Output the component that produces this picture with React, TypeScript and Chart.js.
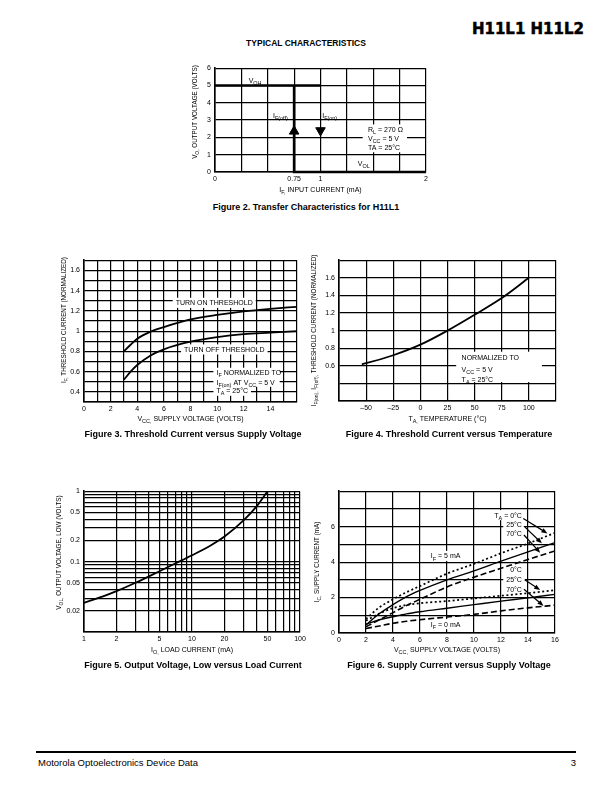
import React, { useEffect, useRef } from 'react';
import { Chart, registerables } from 'chart.js';
Chart.register(...registerables);

const FONT = '"Liberation Sans", Arial, Helvetica, sans-serif';
const PL = 46, PT = 8, PR = 14, XH = 14, PB = 14, YW = 22;

// ---------- Figure 2: transfer characteristics ----------
const fig2XGrid = [0, 0.25, 0.5, 0.75, 1, 1.25, 1.5, 1.75, 2];
const fig2XLabels = [0, 0.75, 1, 2];
const fig2YGrid = [0, 1, 2, 3, 4, 5, 6];
const fig2YLabels = [0, 1, 2, 3, 4, 5, 6];
const fig2HighX = [0, 1];
const fig2HighY = [5, 5];
const fig2SwitchX = [0.75, 0.75, 2];
const fig2SwitchY = [5, 0, 0];
const fig2OffMarkX = [0.75];
const fig2OffMarkY = [2.35];
const fig2OnMarkX = [1];
const fig2OnMarkY = [2.4];

// ---------- Figure 3: threshold current vs supply voltage ----------
const fig3XGrid = [0, 1, 2, 3, 4, 5, 6, 7, 8, 9, 10, 11, 12, 13, 14, 15, 16];
const fig3XLabels = [0, 2, 4, 6, 8, 10, 12, 14];
const fig3YGrid = [0.3, 0.4, 0.5, 0.6, 0.7, 0.8, 0.9, 1, 1.1, 1.2, 1.3, 1.4, 1.5, 1.6, 1.7];
const fig3YLabels = [0.4, 0.6, 0.8, 1, 1.2, 1.4, 1.6];
const fig3Vcc = [3, 3.5, 4, 5, 6, 8, 10, 12, 14, 16];
const fig3TurnOn = [0.8, 0.865, 0.925, 0.995, 1.04, 1.115, 1.16, 1.195, 1.22, 1.24];
const fig3TurnOff = [0.52, 0.6, 0.665, 0.76, 0.82, 0.895, 0.94, 0.97, 0.985, 1.0];

// ---------- Figure 4: threshold current vs temperature ----------
const fig4XGrid = [-75, -50, -25, 0, 25, 50, 75, 100, 125];
const fig4XLabels = [-50, -25, 0, 25, 50, 75, 100];
const fig4YGrid = [0.2, 0.4, 0.6, 0.8, 1, 1.2, 1.4, 1.6, 1.8];
const fig4YLabels = [0.6, 0.8, 1, 1.2, 1.4, 1.6];
const fig4Temp = [-54, -50, -25, 0, 25, 50, 75, 100];
const fig4Current = [0.62, 0.63, 0.72, 0.84, 1.0, 1.18, 1.37, 1.6];

// ---------- Figure 5: output voltage low vs load current ----------
const fig5XGrid = [1, 2, 3, 4, 5, 6, 7, 8, 9, 10, 20, 30, 40, 50, 60, 70, 80, 90, 100];
const fig5XLabels = [1, 2, 5, 10, 20, 50, 100];
const fig5YGrid = [0.01, 0.02, 0.03, 0.04, 0.05, 0.06, 0.07, 0.08, 0.09, 0.1, 0.2, 0.3, 0.4, 0.5, 0.6, 0.7, 0.8, 0.9, 1];
const fig5YLabels = [0.02, 0.05, 0.1, 0.2, 0.5, 1];
const fig5Load = [1, 1.5, 2, 3, 5, 7, 10, 15, 20, 30, 40, 50];
const fig5Vol = [0.026, 0.032, 0.038, 0.05, 0.073, 0.094, 0.123, 0.171, 0.227, 0.385, 0.62, 1.0];

// ---------- Figure 6: supply current vs supply voltage ----------
const fig6XGrid = [0, 2, 4, 6, 8, 10, 12, 14, 16];
const fig6XLabels = [0, 2, 4, 6, 8, 10, 12, 14, 16];
const fig6YGrid = [0, 1, 2, 3, 4, 5, 6, 7, 8];
const fig6YLabels = [0, 2, 4, 6];
const fig6Vcc = [2, 3, 4, 5, 6, 8, 10, 12, 14, 16];
const fig6On0C = [0.8, 1.45, 1.9, 2.3, 2.65, 3.35, 3.9, 4.5, 5.05, 5.65];
const fig6On25C = [0.45, 1.1, 1.6, 2.05, 2.4, 3.0, 3.5, 4.05, 4.58, 5.1];
const fig6On70C = [0.35, 0.75, 1.15, 1.55, 1.9, 2.6, 3.15, 3.65, 4.15, 4.63];
const fig6Off0C = [0.7, 1.1, 1.4, 1.58, 1.68, 1.8, 1.95, 2.1, 2.25, 2.42];
const fig6Off25C = [0.5, 0.75, 0.92, 1.08, 1.2, 1.4, 1.6, 1.8, 1.98, 2.18];
const fig6Off70C = [0.25, 0.4, 0.55, 0.66, 0.75, 0.9, 1.05, 1.25, 1.42, 1.57];

type Axis = { type: 'linear' | 'logarithmic'; min: number; max: number; grid: number[]; labels: number[] };
type Note = { x: number; y: number; text: string; align?: 'left' | 'center' | 'right'; bg?: boolean; size?: number };
type Spec = {
  rect: [number, number, number, number];
  x: Axis; y: Axis;
  datasets: any[];
  notes: Note[];
  boxes?: [number, number, number, number][];
  arrows?: [number, number, number, number][];
  xTitle: string; yTitle: string;
  yTitleDx: number; yTitleDy: number; xTitleDy: number;
};

const pts = (xs: number[], ys: number[]) => xs.map((x, i) => ({ x, y: ys[i] }));

function parseRich(s: string) {
  const out: { t: string; k: string }[] = [];
  const re = /_\{([^}]*)\}|\^\{([^}]*)\}|([^_^]+)/g;
  let m: RegExpExecArray | null;
  while ((m = re.exec(s))) {
    if (m[1] !== undefined) out.push({ t: m[1], k: 'sub' });
    else if (m[2] !== undefined) out.push({ t: m[2], k: 'sup' });
    else out.push({ t: m[3], k: '' });
  }
  return out;
}
function richW(ctx: CanvasRenderingContext2D, s: string, size: number) {
  let w = 0;
  for (const sg of parseRich(s)) {
    ctx.font = `${sg.k ? size * 0.78 : size}px ${FONT}`;
    w += ctx.measureText(sg.t).width;
  }
  return w;
}
function drawRich(ctx: CanvasRenderingContext2D, s: string, x: number, y: number, size: number, align: string) {
  const w = richW(ctx, s, size);
  let cx = align === 'left' ? x : align === 'center' ? x - w / 2 : x - w;
  const base = y + size * 0.36;
  ctx.textBaseline = 'alphabetic';
  ctx.textAlign = 'left';
  for (const sg of parseRich(s)) {
    const sz = sg.k ? size * 0.78 : size;
    ctx.font = `${sz}px ${FONT}`;
    const dy = sg.k === 'sub' ? size * 0.3 : sg.k === 'sup' ? -size * 0.4 : 0;
    ctx.fillText(sg.t, cx, base + dy);
    cx += ctx.measureText(sg.t).width;
  }
}

const fmt = (v: number) => {
  const r = Math.round(v * 1000) / 1000;
  return r < 0 ? '\u2013' + String(-r) : String(r);
};

function overlay(spec: Spec, cl: number, ct: number) {
  return {
    id: 'overlay',
    beforeDatasetsDraw(chart: any) {
      const { ctx } = chart;
      const xs = chart.scales.x, ys = chart.scales.y;
      ctx.save();
      ctx.fillStyle = '#fff';
      (spec.boxes || []).forEach((b) => {
        const x1 = xs.getPixelForValue(b[0]), x2 = xs.getPixelForValue(b[2]);
        const y1 = ys.getPixelForValue(b[1]), y2 = ys.getPixelForValue(b[3]);
        ctx.fillRect(Math.min(x1, x2), Math.min(y1, y2), Math.abs(x2 - x1), Math.abs(y2 - y1));
      });
      spec.notes.forEach((n) => {
        if (!n.bg) return;
        const size = n.size || 7;
        const px = xs.getPixelForValue(n.x), py = ys.getPixelForValue(n.y);
        const w = richW(ctx, n.text, size);
        const al = n.align || 'center';
        const x0 = al === 'left' ? px : al === 'center' ? px - w / 2 : px - w;
        ctx.fillStyle = '#fff';
        ctx.fillRect(x0 - 3, py - size * 0.72, w + 6, size * 1.44);
      });
      ctx.fillStyle = '#000';
      spec.notes.forEach((n) => {
        const size = n.size || 7;
        drawRich(ctx, n.text, xs.getPixelForValue(n.x), ys.getPixelForValue(n.y), size, n.align || 'center');
      });
      ctx.restore();
    },
    afterDatasetsDraw(chart: any) {
      const { ctx } = chart;
      const xs = chart.scales.x, ys = chart.scales.y;
      ctx.save();
      ctx.strokeStyle = '#000';
      ctx.fillStyle = '#000';
      (spec.arrows || []).forEach((a) => {
        const x1 = xs.getPixelForValue(a[0]), y1 = ys.getPixelForValue(a[1]);
        const x2 = xs.getPixelForValue(a[2]), y2 = ys.getPixelForValue(a[3]);
        const ang = Math.atan2(y2 - y1, x2 - x1);
        const L = 6, W = 2.4;
        ctx.lineWidth = 1.2;
        ctx.beginPath();
        ctx.moveTo(x1, y1);
        ctx.lineTo(x2 - Math.cos(ang) * L * 0.8, y2 - Math.sin(ang) * L * 0.8);
        ctx.stroke();
        ctx.beginPath();
        ctx.moveTo(x2, y2);
        ctx.lineTo(x2 - L * Math.cos(ang) + W * Math.sin(ang), y2 - L * Math.sin(ang) - W * Math.cos(ang));
        ctx.lineTo(x2 - L * Math.cos(ang) - W * Math.sin(ang), y2 - L * Math.sin(ang) + W * Math.cos(ang));
        ctx.closePath();
        ctx.fill();
      });
      ctx.restore();
    },
    afterDraw(chart: any) {
      const { ctx } = chart;
      const [L, T, R, B] = spec.rect;
      ctx.save();
      ctx.fillStyle = '#000';
      drawRich(ctx, spec.xTitle, (L + R) / 2 - cl, B + spec.xTitleDy - ct, 7, 'center');
      ctx.translate(L - spec.yTitleDx - cl, (T + B) / 2 + spec.yTitleDy - ct);
      ctx.rotate(-Math.PI / 2);
      drawRich(ctx, spec.yTitle, 0, 0, 6.3, 'center');
      ctx.restore();
    },
  };
}

function Plot({ spec }: { spec: Spec }) {
  const ref = useRef<HTMLCanvasElement>(null);
  const [L, T, R, B] = spec.rect;
  const left = L - PL, top = T - PT;
  const w = R - L + PL + PR, h = B - T + PT + XH + PB;
  useEffect(() => {
    const mk = (a: Axis, isX: boolean) => ({
      type: a.type,
      min: a.min,
      max: a.max,
      afterBuildTicks: (s: any) => { s.ticks = a.grid.map((v) => ({ value: v })); },
      afterFit: (s: any) => { if (isX) s.height = XH; else s.width = YW; },
      grid: { color: '#000', lineWidth: 1.2, drawTicks: false },
      border: { color: '#000', width: 1.6 },
      ticks: {
        autoSkip: false, maxRotation: 0, minRotation: 0, padding: isX ? 3 : 4, color: '#000',
        font: { family: FONT, size: 7 },
        callback: (v: number) => {
          const hit = a.labels.find((l) => Math.abs(l - v) < 1e-9);
          return hit === undefined ? '' : fmt(hit);
        },
      },
    });
    const chart = new Chart(ref.current as HTMLCanvasElement, {
      type: 'line',
      data: { datasets: spec.datasets },
      options: {
        animation: false,
        responsive: false,
        maintainAspectRatio: false,
        devicePixelRatio: 1,
        events: [],
        layout: { padding: { left: PL - YW, top: PT, right: PR, bottom: PB } },
        plugins: { legend: { display: false }, tooltip: { enabled: false } },
        elements: { point: { radius: 0 } },
        scales: { x: mk(spec.x, true) as any, y: mk(spec.y, false) as any },
      },
      plugins: [overlay(spec, left, top)],
    });
    return () => chart.destroy();
  }, []);
  return (
    <canvas ref={ref} width={w} height={h}
      style={{ position: 'absolute', left, top, width: w, height: h }} />
  );
}

const curve = (data: any[], dash: number[] = [], width = 1.6) => ({
  data, borderColor: '#000', borderWidth: width, borderDash: dash,
  pointRadius: 0, cubicInterpolationMode: 'monotone', fill: false,
});

function Txt({ x, y, size, bold, align = 'left', family = FONT, children, extra = {} }: any) {
  const topY = y - 0.85 * size;
  const style: any = {
    position: 'absolute', top: topY, fontSize: size, lineHeight: `${size}px`,
    fontFamily: family, fontWeight: bold ? 'bold' : 'normal', whiteSpace: 'nowrap', color: '#000', ...extra,
  };
  if (align === 'left') style.left = x;
  else if (align === 'right') style.right = 612 - x;
  else { style.left = x; style.transform = 'translateX(-50%)'; }
  return <div style={style}>{children}</div>;
}

export default function App() {
  const fig2: Spec = {
    rect: [215, 68, 426, 172],
    x: { type: 'linear', min: 0, max: 2, grid: fig2XGrid, labels: fig2XLabels },
    y: { type: 'linear', min: 0, max: 6, grid: fig2YGrid, labels: fig2YLabels },
    datasets: [
      { ...curve(pts(fig2HighX, fig2HighY), [], 2.6), cubicInterpolationMode: 'default', tension: 0, clip: false },
      { ...curve(pts(fig2SwitchX, fig2SwitchY), [], 2.6), cubicInterpolationMode: 'default', tension: 0, clip: false },
      { data: pts(fig2OffMarkX, fig2OffMarkY), showLine: false, pointStyle: 'triangle', pointRadius: 5.5,
        pointRotation: 0, backgroundColor: '#000', borderColor: '#000', borderWidth: 1 },
      { data: pts(fig2OnMarkX, fig2OnMarkY), showLine: false, pointStyle: 'triangle', pointRadius: 5.5,
        pointRotation: 180, backgroundColor: '#000', borderColor: '#000', borderWidth: 1 },
    ],
    boxes: [[1.4, 1.14, 1.82, 2.75]],
    notes: [
      { x: 0.38, y: 5.31, text: 'V_{OH}' },
      { x: 0.62, y: 3.29, text: 'I_{F(off)}' },
      { x: 1.087, y: 3.29, text: 'I_{F(on)}' },
      { x: 1.45, y: 2.46, text: 'R_{L} = 270 \u03A9', align: 'left' },
      { x: 1.45, y: 1.94, text: 'V_{CC} = 5 V', align: 'left' },
      { x: 1.45, y: 1.4, text: 'TA = 25\u00B0C', align: 'left' },
      { x: 1.41, y: 0.5, text: 'V_{OL}' },
    ],
    xTitle: 'I_{F,} INPUT CURRENT (mA)', yTitle: 'V_{O,} OUTPUT VOLTAGE (VOLTS)',
    yTitleDx: 20, yTitleDy: -8, xTitleDy: 17,
  };

  const fig3: Spec = {
    rect: [84, 260, 297, 402],
    x: { type: 'linear', min: 0, max: 16, grid: fig3XGrid, labels: fig3XLabels },
    y: { type: 'linear', min: 0.3, max: 1.7, grid: fig3YGrid, labels: fig3YLabels },
    datasets: [curve(pts(fig3Vcc, fig3TurnOn), [], 1.8), curve(pts(fig3Vcc, fig3TurnOff), [], 1.8)],
    boxes: [[9.72, 0.45, 14.7, 0.638]],
    notes: [
      { x: 9.78, y: 1.279, text: 'TURN ON THRESHOLD', bg: true },
      { x: 10.54, y: 0.819, text: 'TURN OFF THRESHOLD', bg: true },
      { x: 9.95, y: 0.593, text: 'I_{F} NORMALIZED TO', align: 'left' },
      { x: 9.95, y: 0.494, text: 'I_{F(on)} AT V_{CC} = 5 V', align: 'left' },
      { x: 9.95, y: 0.411, text: 'T_{A} = 25\u00B0C', align: 'left', bg: true },
    ],
    xTitle: 'V_{CC,} SUPPLY VOLTAGE (VOLTS)', yTitle: 'I_{F,} THRESHOLD CURRENT (NORMALIZED)',
    yTitleDx: 20, yTitleDy: -11, xTitleDy: 16,
  };

  const fig4: Spec = {
    rect: [339, 260, 556, 401],
    x: { type: 'linear', min: -75, max: 125, grid: fig4XGrid, labels: fig4XLabels },
    y: { type: 'linear', min: 0.2, max: 1.8, grid: fig4YGrid, labels: fig4YLabels },
    datasets: [curve(pts(fig4Temp, fig4Current), [], 1.8)],
    boxes: [[33, 0.415, 112, 0.76]],
    notes: [
      { x: 38, y: 0.696, text: 'NORMALIZED TO', align: 'left' },
      { x: 38, y: 0.563, text: 'V_{CC} = 5 V', align: 'left' },
      { x: 38, y: 0.445, text: 'T_{A} = 25\u00B0C', align: 'left' },
    ],
    xTitle: 'T_{A,} TEMPERATURE (\u00B0C)', yTitle: 'I_{F(on),} I_{F(off),} THRESHOLD CURRENT (NORMALIZED)',
    yTitleDx: 25, yTitleDy: 0, xTitleDy: 17,
  };

  const fig5: Spec = {
    rect: [84, 491, 300, 632],
    x: { type: 'logarithmic', min: 1, max: 100, grid: fig5XGrid, labels: fig5XLabels },
    y: { type: 'logarithmic', min: 0.01, max: 1, grid: fig5YGrid, labels: fig5YLabels },
    datasets: [curve(pts(fig5Load, fig5Vol), [], 1.8)],
    notes: [],
    xTitle: 'I_{O,} LOAD CURRENT (mA)', yTitle: 'V_{OL,} OUTPUT VOLTAGE, LOW (VOLTS)',
    yTitleDx: 25, yTitleDy: -9, xTitleDy: 17,
  };

  const fig6: Spec = {
    rect: [339, 491, 555, 633],
    x: { type: 'linear', min: 0, max: 16, grid: fig6XGrid, labels: fig6XLabels },
    y: { type: 'linear', min: 0, max: 8, grid: fig6YGrid, labels: fig6YLabels },
    datasets: [
      curve(pts(fig6Vcc, fig6On0C), [2, 2.5], 1.7),
      curve(pts(fig6Vcc, fig6On25C), [], 1.4),
      curve(pts(fig6Vcc, fig6On70C), [6, 3], 1.6),
      curve(pts(fig6Vcc, fig6Off0C), [2, 2.5], 1.7),
      curve(pts(fig6Vcc, fig6Off25C), [], 1.4),
      curve(pts(fig6Vcc, fig6Off70C), [6, 3], 1.6),
    ],
    notes: [
      { x: 13.55, y: 6.65, text: 'T_{A} = 0\u00B0C', align: 'right', bg: true },
      { x: 13.55, y: 6.15, text: '25\u00B0C', align: 'right', bg: true },
      { x: 13.55, y: 5.6, text: '70\u00B0C', align: 'right', bg: true },
      { x: 7.9, y: 4.35, text: 'I_{F} = 5 mA', bg: true },
      { x: 13.55, y: 3.6, text: '0\u00B0C', align: 'right', bg: true },
      { x: 13.55, y: 3.0, text: '25\u00B0C', align: 'right', bg: true },
      { x: 13.55, y: 2.47, text: '70\u00B0C', align: 'right', bg: true },
      { x: 7.9, y: 0.5, text: 'I_{F} = 0 mA', bg: true },
    ],
    arrows: [
      [13.65, 6.46, 15.44, 5.62],
      [13.7, 6.03, 15.03, 5.06],
      [13.7, 5.53, 14.9, 4.53],
      [13.75, 3.0, 14.9, 2.43],
      [13.7, 2.47, 15.15, 1.53],
    ],
    xTitle: 'V_{CC,} SUPPLY VOLTAGE (VOLTS)', yTitle: 'I_{C,} SUPPLY CURRENT (mA)',
    yTitleDx: 22, yTitleDy: 0, xTitleDy: 16,
  };

  return (
    <div style={{ position: 'absolute', left: 0, top: 0, width: 612, height: 792, background: '#fff', overflow: 'hidden' }}>
      <Txt x={584} y={35} size={15} bold align="right" family='"DejaVu Sans", sans-serif'
        extra={{ WebkitTextStroke: '0.5px #000' }}>H11L1 H11L2</Txt>
      <Txt x={306} y={46} size={8.5} bold align="center">TYPICAL CHARACTERISTICS</Txt>
      <Plot spec={fig2} />
      <Txt x={306} y={211} size={9} bold align="center">Figure 2. Transfer Characteristics for H11L1</Txt>
      <Plot spec={fig3} />
      <Plot spec={fig4} />
      <Txt x={193} y={438} size={9} bold align="center">Figure 3. Threshold Current versus Supply Voltage</Txt>
      <Txt x={449} y={438} size={9} bold align="center">Figure 4. Threshold Current versus Temperature</Txt>
      <Plot spec={fig5} />
      <Plot spec={fig6} />
      <Txt x={193} y={669} size={9} bold align="center">Figure 5. Output Voltage, Low versus Load Current</Txt>
      <Txt x={449} y={669} size={9} bold align="center">Figure 6. Supply Current versus Supply Voltage</Txt>
      <div style={{ position: 'absolute', left: 36, top: 751, width: 540, height: 0, borderTop: '2px solid #000' }} />
      <Txt x={38} y={766} size={9.5} align="left">Motorola Optoelectronics Device Data</Txt>
      <Txt x={576} y={766} size={9.5} align="right">3</Txt>
    </div>
  );
}
